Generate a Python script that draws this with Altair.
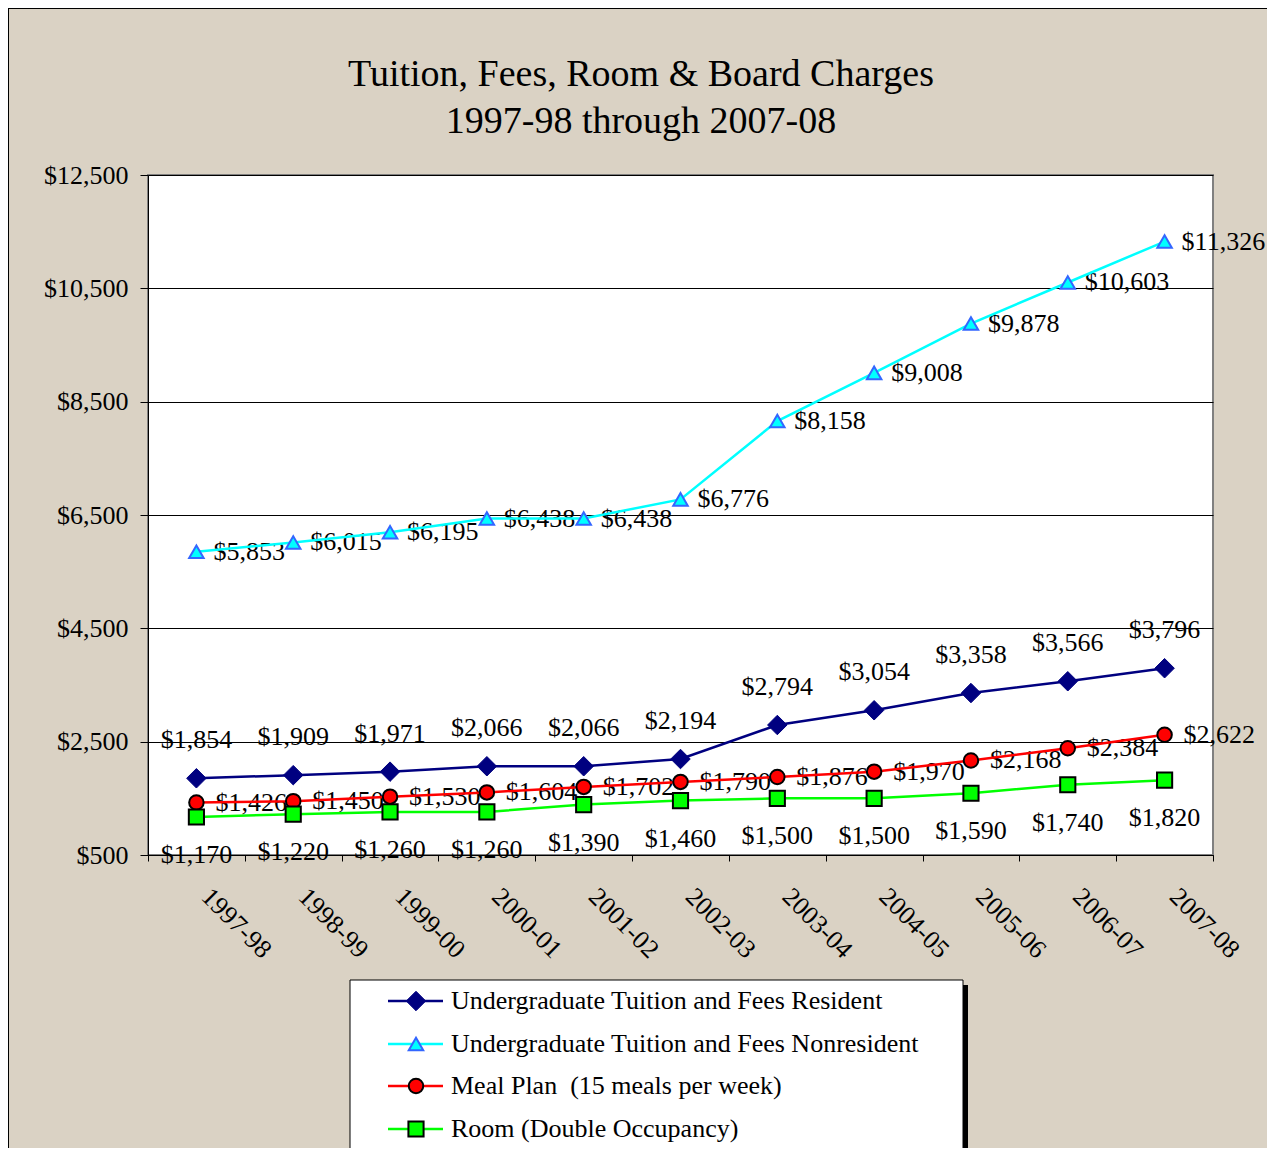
import altair as alt
import pandas as pd

# ---------------- data ----------------
YEARS = ["1997-98", "1998-99", "1999-00", "2000-01", "2001-02", "2002-03",
         "2003-04", "2004-05", "2005-06", "2006-07", "2007-08"]
RESIDENT = [1854, 1909, 1971, 2066, 2066, 2194, 2794, 3054, 3358, 3566, 3796]
NONRESIDENT = [5853, 6015, 6195, 6438, 6438, 6776, 8158, 9008, 9878, 10603, 11326]
MEAL = [1426, 1450, 1530, 1604, 1702, 1790, 1876, 1970, 2168, 2384, 2622]
ROOM = [1170, 1220, 1260, 1260, 1390, 1460, 1500, 1500, 1590, 1740, 1820]
SERIES_NAMES = [
    "Undergraduate Tuition and Fees Resident",
    "Undergraduate Tuition and Fees Nonresident",
    "Meal Plan\u00a0 (15 meals per week)",
    "Room (Double Occupancy)",
]
Y_TICKS = [500, 2500, 4500, 6500, 8500, 10500, 12500]
TITLE_LINES = ["Tuition, Fees, Room & Board Charges", "1997-98 through 2007-08"]

# ---------------- layout / style ----------------
FONT = "Liberation Serif"
PL, PT, W, H = 140, 167, 1065, 680
PR = 1259 - PL - W
PB = 1140 - PT - H
BG = "#DAD2C4"


def xenc():
    return alt.X(
        "year:N", sort=YEARS, bandPosition=0.5,
        scale=alt.Scale(type="band", domain=YEARS, paddingInner=0, paddingOuter=0),
        axis=alt.Axis(title=None, labelAngle=45, labelAlign="left", labelBaseline="top",
                      labelPadding=22, labelOffset=18, tickBand="extent", tickSize=6,
                      tickColor="black", domainColor="black", labelFont=FONT,
                      labelFontSize=26, labelColor="black", grid=False),
    )


def yenc():
    return alt.Y(
        "value:Q",
        scale=alt.Scale(domain=[Y_TICKS[0], Y_TICKS[-1]], nice=False, zero=False),
        axis=alt.Axis(title=None, values=Y_TICKS, format="$,d", grid=True,
                      gridColor="black", gridWidth=1, tickSize=8, tickColor="black",
                      domainColor="black", labelPadding=12, labelFont=FONT,
                      labelFontSize=26, labelColor="black"),
    )


STYLES = [
    dict(line="#000080", shape="diamond", fill="#000080", stroke="#000080", sw=1, size=380,
         dx=0, dy=-38, align="center"),
    dict(line="#00FFFF", shape="triangle-up", fill="#00FFFF", stroke="#3366FF", sw=2, size=210,
         dx=17, dy=0, align="left"),
    dict(line="#FF0000", shape="circle", fill="#FF0000", stroke="black", sw=2, size=210,
         dx=19, dy=0, align="left"),
    dict(line="#00FF00", shape="square", fill="#00FF00", stroke="black", sw=2, size=230,
         dx=0, dy=38, align="center"),
]
SERIES_VALUES = [RESIDENT, NONRESIDENT, MEAL, ROOM]

text_layers, line_layers, point_layers = [], [], []
for name, vals, st in zip(SERIES_NAMES, SERIES_VALUES, STYLES):
    df = pd.DataFrame({"year": YEARS, "value": vals, "series": name})
    base = alt.Chart(df).encode(x=xenc(), y=yenc())
    line_layers.append(base.mark_line(color=st["line"], strokeWidth=2.5))
    point_layers.append(base.mark_point(shape=st["shape"], filled=True, fill=st["fill"],
                                        stroke=st["stroke"], strokeWidth=st["sw"],
                                        size=st["size"], opacity=1))
    text_layers.append(base.mark_text(font=FONT, fontSize=26, color="black", dx=st["dx"],
                                      dy=st["dy"], align=st["align"], baseline="middle")
                       .encode(text=alt.Text("value:Q", format="$,d")))

# ---------------- title ----------------
title_layers = []
for i, t in enumerate(TITLE_LINES):
    title_layers.append(
        alt.Chart(pd.DataFrame({"t": [t]})).mark_text(font=FONT, fontSize=38, color="black",
                                                     align="center", baseline="middle")
        .encode(text="t:N", x=alt.value(493), y=alt.value(-100 + 47 * i))
    )

# ---------------- frame (left/top border) ----------------
one = pd.DataFrame({"k": [0]})
frame = [
    alt.Chart(one).mark_rule(color="black", strokeWidth=1)
    .encode(x=alt.value(-139.5), y=alt.value(-167), y2=alt.value(PB + H)),
    alt.Chart(one).mark_rule(color="black", strokeWidth=1)
    .encode(x=alt.value(-140), x2=alt.value(W + PR), y=alt.value(-166.5)),
]

# ---------------- legend ----------------
LX0, LX1, LY0, LY1 = 202, 815, 805, 985
legend_layers = [
    alt.Chart(one).mark_rect(color="black")
    .encode(x=alt.value(LX0 + 5), x2=alt.value(LX1 + 5), y=alt.value(LY0 + 5), y2=alt.value(LY1 + 5)),
    alt.Chart(one).mark_rect(fill="white", stroke="black", strokeWidth=1)
    .encode(x=alt.value(LX0), x2=alt.value(LX1), y=alt.value(LY0), y2=alt.value(LY1)),
]
ROW_Y = [826, 869, 911, 954]
for name, st, ry in zip(SERIES_NAMES, STYLES, ROW_Y):
    ldf = pd.DataFrame({"label": [name]})
    legend_layers.append(alt.Chart(ldf).mark_rule(color=st["line"], strokeWidth=2.5)
                         .encode(x=alt.value(240), x2=alt.value(295), y=alt.value(ry)))
    legend_layers.append(alt.Chart(ldf).mark_point(shape=st["shape"], filled=True, fill=st["fill"],
                                                   stroke=st["stroke"], strokeWidth=st["sw"],
                                                   size=st["size"], opacity=1)
                         .encode(x=alt.value(268), y=alt.value(ry)))
    legend_layers.append(alt.Chart(ldf).mark_text(font=FONT, fontSize=26, color="black",
                                                  align="left", baseline="middle")
                         .encode(text="label:N", x=alt.value(303), y=alt.value(ry)))

chart = (
    alt.layer(*frame, *title_layers, *text_layers, *line_layers, *point_layers, *legend_layers)
    .properties(width=W, height=H,
                padding={"left": PL, "top": PT, "right": PR, "bottom": PB},
                autosize=alt.AutoSizeParams(type="none"))
    .configure(background=BG)
    .configure_view(fill="white", stroke="#808080", strokeWidth=2)
)

chart.save("out.html", embed_options={"renderer": "svg", "actions": False})
